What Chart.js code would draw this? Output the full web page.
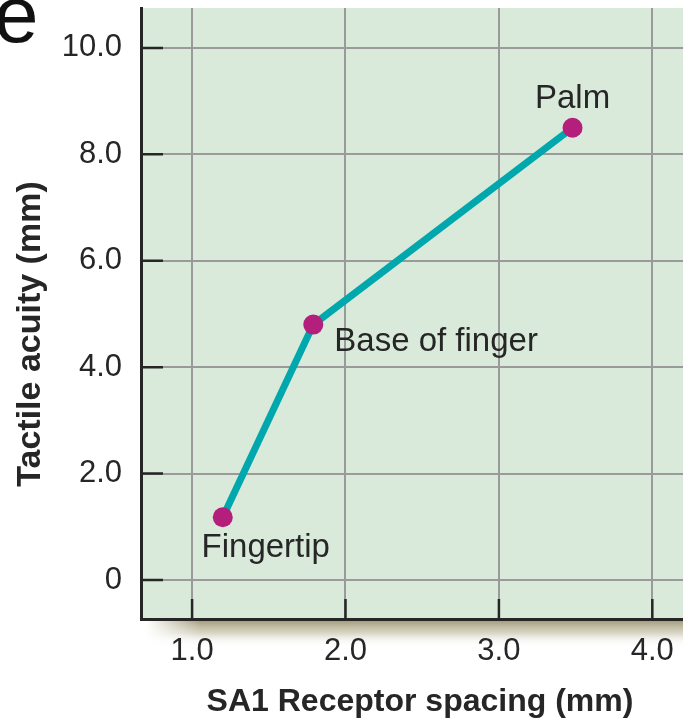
<!DOCTYPE html>
<html>
<head>
<meta charset="utf-8">
<script src="https://cdn.jsdelivr.net/npm/chart.js@4"></script>
<style>
  html, body { margin: 0; padding: 0; background: #ffffff; }
  #wrap { position: relative; width: 683px; height: 724px; overflow: hidden; }
  canvas { display: block; }
</style>
</head>
<body>
<div id="wrap"><canvas id="c" width="683" height="724"></canvas></div>
<script>
// ---- data ----
const receptorSpacing = [1.2, 1.79, 3.48];        // x, mm
const tactileAcuity   = [1.18, 4.8, 8.5];         // y, mm
const pointLabels     = ['Fingertip', 'Base of finger', 'Palm'];
const xTickValues     = [1, 2, 3, 4];
const xTickLabels     = ['1.0', '2.0', '3.0', '4.0'];
const yTickValues     = [0, 2, 4, 6, 8, 10];
const yTickLabels     = ['0', '2.0', '4.0', '6.0', '8.0', '10.0'];
const panelLetter     = 'e';
const xTitle          = 'SA1 Receptor spacing (mm)';
const yTitle          = 'Tactile acuity (mm)';

const LIGHT = "'Liberation Sans', 'Helvetica Neue', Arial, sans-serif";
const BOLD = "'Liberation Sans', Arial, sans-serif";
const INK = '#262626';

const points = receptorSpacing.map((x, i) => ({ x: x, y: tactileAcuity[i] }));

// label offsets relative to the point (style, not data)
const labelStyle = [
  { dx: 43, dy: 31, align: 'center' },
  { dx: 21, dy: 17, align: 'left' },
  { dx: 0,  dy: -29, align: 'center' }
];

const backgroundPlugin = {
  id: 'bg',
  beforeDraw(chart) {
    const { ctx, chartArea: a } = chart;
    ctx.save();
    // soft shadow under the plot
    const g = ctx.createLinearGradient(0, a.bottom, 0, a.bottom + 28);
    g.addColorStop(0, 'rgba(150,142,105,0.95)');
    g.addColorStop(0.5, 'rgba(200,196,172,0.7)');
    g.addColorStop(1, 'rgba(255,255,255,0)');
    ctx.fillStyle = g;
    ctx.fillRect(a.left, a.bottom, chart.width - a.left, 28);
    const h = ctx.createLinearGradient(a.left + 5, 0, a.left + 60, 0);
    h.addColorStop(0, 'rgba(255,255,255,1)');
    h.addColorStop(1, 'rgba(255,255,255,0)');
    ctx.fillStyle = h;
    ctx.fillRect(a.left - 2, a.bottom, 64, 30);
    // plot background
    ctx.fillStyle = '#d9eadb';
    ctx.fillRect(a.left, a.top, a.right - a.left, a.bottom - a.top);
    ctx.restore();
  }
};

const innerTicksPlugin = {
  id: 'innerTicks',
  beforeDatasetsDraw(chart) {
    const { ctx, chartArea: a, scales } = chart;
    ctx.save();
    ctx.strokeStyle = INK;
    ctx.lineWidth = 2.5;
    ctx.beginPath();
    yTickValues.forEach(v => {
      const y = scales.y.getPixelForValue(v);
      ctx.moveTo(a.left, y); ctx.lineTo(a.left + 22, y);
    });
    xTickValues.forEach(v => {
      const x = scales.x.getPixelForValue(v);
      ctx.moveTo(x, a.bottom); ctx.lineTo(x, a.bottom - 20);
    });
    ctx.stroke();
    ctx.restore();
  }
};

const textPlugin = {
  id: 'texts',
  afterDatasetsDraw(chart) {
    const { ctx } = chart;
    const meta = chart.getDatasetMeta(0);
    ctx.save();
    ctx.fillStyle = INK;
    ctx.font = '33px ' + LIGHT;
    ctx.textBaseline = 'middle';
    meta.data.forEach((el, i) => {
      const s = labelStyle[i];
      ctx.textAlign = s.align;
      ctx.fillText(pointLabels[i], el.x + s.dx, el.y + s.dy);
    });
    ctx.restore();
  },
  afterDraw(chart) {
    const { ctx } = chart;
    ctx.save();
    // panel letter
    ctx.fillStyle = '#111';
    ctx.font = '80px ' + LIGHT;
    ctx.textAlign = 'left';
    ctx.textBaseline = 'alphabetic';
    ctx.fillText(panelLetter, -6, 42);
    // axis titles
    ctx.fillStyle = INK;
    ctx.textAlign = 'center';
    ctx.textBaseline = 'middle';
    ctx.font = 'bold 32px ' + BOLD;
    ctx.fillText(xTitle, 420, 702);
    ctx.translate(31, 334);
    ctx.rotate(-Math.PI / 2);
    ctx.font = 'bold 34px ' + BOLD;
    ctx.fillText(yTitle, 0, 0);
    ctx.restore();
  }
};

new Chart(document.getElementById('c'), {
  type: 'scatter',
  data: {
    datasets: [{
      data: points,
      showLine: true,
      borderColor: '#00a8ae',
      borderWidth: 7,
      pointRadius: 10,
      pointHoverRadius: 10,
      pointBackgroundColor: '#b31f7b',
      pointBorderWidth: 0,
      tension: 0
    }]
  },
  options: {
    responsive: false,
    devicePixelRatio: 1,
    animation: false,
    layout: { autoPadding: false, padding: { top: 8, right: 0, left: 0, bottom: 0 } },
    plugins: { legend: { display: false }, tooltip: { enabled: false } },
    scales: {
      x: {
        type: 'linear',
        min: 0.667,
        max: 4.2,
        afterFit(s) { s.height = 105; s.paddingLeft = 0; s.paddingRight = 0; },
        afterBuildTicks(s) { s.ticks = xTickValues.map(v => ({ value: v })); },
        ticks: {
          autoSkip: false,
          maxRotation: 0,
          padding: 14,
          color: INK,
          font: { family: LIGHT, size: 31 },
          callback: (v) => xTickLabels[xTickValues.indexOf(v)]
        },
        grid: { color: '#9a9a9a', lineWidth: 2, drawTicks: false },
        border: { color: INK, width: 3 },
        title: { display: false }
      },
      y: {
        type: 'linear',
        min: -0.733,
        max: 10.75,
        afterFit(s) { s.width = 141; s.paddingTop = 0; s.paddingBottom = 0; },
        afterBuildTicks(s) { s.ticks = yTickValues.map(v => ({ value: v })); },
        ticks: {
          autoSkip: false,
          padding: 19,
          color: INK,
          font: { family: LIGHT, size: 31 },
          callback: (v) => yTickLabels[yTickValues.indexOf(v)]
        },
        grid: { color: '#9a9a9a', lineWidth: 2, drawTicks: false },
        border: { color: INK, width: 3 },
        title: { display: false }
      }
    }
  },
  plugins: [backgroundPlugin, innerTicksPlugin, textPlugin]
});
</script>
</body>
</html>
